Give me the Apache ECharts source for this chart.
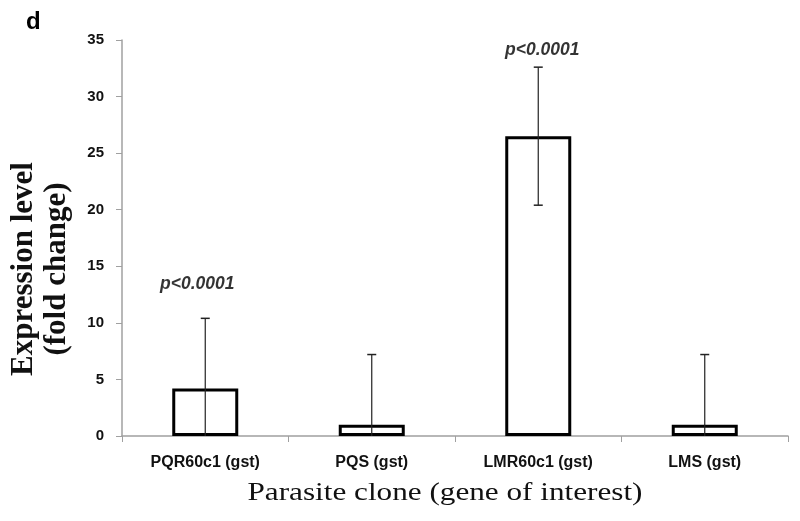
<!DOCTYPE html>
<html>
<head>
<meta charset="utf-8">
<script src="https://cdn.jsdelivr.net/npm/echarts@6/dist/echarts.min.js"></script>
<style>html,body{margin:0;padding:0;background:#fff}#c{width:800px;height:521px}</style>
</head>
<body>
<div id="c"></div>
<script>
const categories = ['PQR60c1 (gst)', 'PQS (gst)', 'LMR60c1 (gst)', 'LMS (gst)'];
const expression = [4.2, 1.0, 26.5, 1.0];
const errors = [6.2, 6.2, 6.1, 6.2];
const pLabels = [[0, 13.4, 'p<0.0001'], [2, 34.1, 'p<0.0001']];
const yTicks = [0, 5, 10, 15, 20, 25, 30, 35];
const xTitle = 'Parasite clone (gene of interest)';
const yTitle = 'Expression level\n(fold change)';

const labelShift = [-8, 0, 4, 0];

const chart = echarts.init(document.getElementById('c'));
chart.setOption({
  animation: false,
  backgroundColor: '#fff',
  grid: { left: 122, right: 12, top: 40, bottom: 85, containLabel: false, outerBoundsMode: 'none' },
  graphic: [
    { type: 'text', x: 26, y: 10,
      style: { text: 'd', font: 'bold 24px "Liberation Sans", Arial, sans-serif', fill: '#000' } },
    { type: 'text', x: 40, y: 269, rotation: Math.PI / 2,
      style: { text: yTitle, font: 'bold 31px "Liberation Serif", "Times New Roman", serif', fill: '#111',
        align: 'center', verticalAlign: 'middle', textAlign: 'center', textVerticalAlign: 'middle', lineHeight: 33 } },
    { type: 'text', x: 445, y: 493, scaleX: 1.2,
      style: { text: xTitle, font: '26px "Liberation Serif", "Times New Roman", serif', fill: '#111',
        align: 'center', verticalAlign: 'middle', textAlign: 'center', textVerticalAlign: 'middle' } }
  ],
  xAxis: {
    type: 'category', data: categories,
    axisLine: { lineStyle: { color: '#a0a0a0', width: 1.5 } },
    axisTick: { show: true, length: 6, lineStyle: { color: '#a0a0a0' } },
    axisLabel: { color: '#111', fontWeight: 'bold', fontSize: 16, fontFamily: '"Liberation Sans", Arial, sans-serif', margin: 19 }
  },
  yAxis: {
    type: 'value', min: 0, max: 35, interval: 5,
    axisLine: { show: true, lineStyle: { color: '#a0a0a0', width: 1.5 } },
    axisTick: { show: true, length: 6, lineStyle: { color: '#a0a0a0' } },
    splitLine: { show: false },
    axisLabel: { color: '#111', fontWeight: 'bold', fontSize: 15, fontFamily: '"Liberation Sans", Arial, sans-serif', margin: 18,
      formatter: v => yTicks.includes(v) ? String(v) : '' }
  },
  series: [
    {
      type: 'bar', data: expression, barWidth: 66,
      itemStyle: { color: '#fff', borderColor: '#000', borderWidth: 3 }
    },
    {
      type: 'custom',
      data: expression.map((v, i) => [i, v, errors[i]]),
      z: 5,
      renderItem: function (params, api) {
        const i = api.value(0), v = api.value(1), e = api.value(2);
        const hi = api.coord([i, v + e]);
        const lo = api.coord([i, Math.max(0, v - e)]);
        const cap = 4.5;
        const children = [
          { type: 'line', shape: { x1: hi[0], y1: hi[1], x2: lo[0], y2: lo[1] }, style: { stroke: '#222', lineWidth: 1.2 } },
          { type: 'line', shape: { x1: hi[0] - cap, y1: hi[1], x2: hi[0] + cap, y2: hi[1] }, style: { stroke: '#222', lineWidth: 1.5 } }
        ];
        if (v - e > 0) {
          children.push({ type: 'line', shape: { x1: lo[0] - cap, y1: lo[1], x2: lo[0] + cap, y2: lo[1] }, style: { stroke: '#222', lineWidth: 1.5 } });
        }
        return { type: 'group', children: children };
      }
    },
    {
      type: 'scatter', symbolSize: 0,
      data: pLabels.map(d => ({ value: d, label: { offset: [labelShift[d[0]], 0] } })),
      label: { show: true, position: 'inside', formatter: p => p.value[2],
        fontStyle: 'italic', fontWeight: 'bold', fontSize: 17.5, color: '#000', fontFamily: '"Liberation Sans", Arial, sans-serif' }
    }
  ]
});
</script>
</body>
</html>
